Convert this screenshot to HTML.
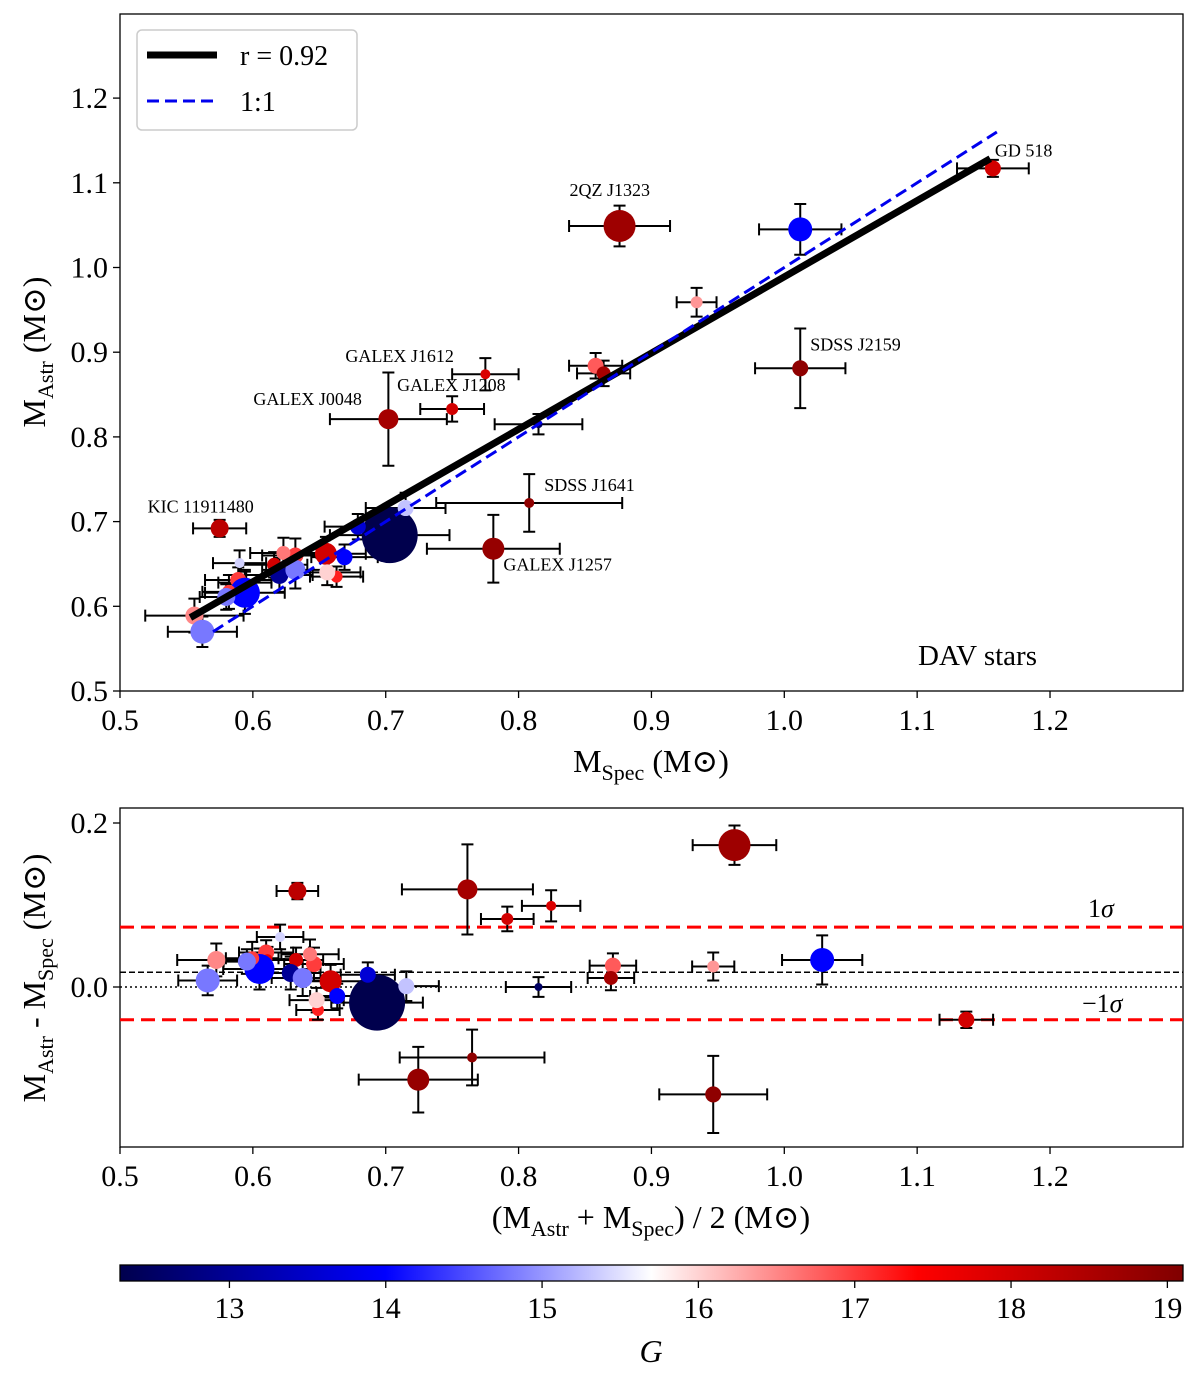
<!DOCTYPE html>
<html><head><meta charset="utf-8">
<style>
html,body{margin:0;padding:0;background:#fff;}
svg{display:block;font-family:"Liberation Serif","DejaVu Serif",serif;}
</style></head>
<body>
<svg id="chart" width="1200" height="1385" viewBox="0 0 1200 1385" xmlns="http://www.w3.org/2000/svg">
<defs>
<linearGradient id="cmap" x1="0" x2="1" y1="0" y2="0">
<stop offset="0" stop-color="rgb(0,0,77)"/>
<stop offset="0.25" stop-color="rgb(0,0,255)"/>
<stop offset="0.5" stop-color="rgb(255,255,255)"/>
<stop offset="0.75" stop-color="rgb(255,0,0)"/>
<stop offset="1" stop-color="rgb(128,0,0)"/>
</linearGradient>
</defs>
</svg>
<script>
// ---- data ----
const mSpec  = [1.157,0.876,1.012,0.934,1.012,0.858,0.864,0.775,0.750,0.702,0.815,0.808,0.781,0.575,0.703,0.715,0.679,0.655,0.669,0.663,0.656,0.632,0.623,0.616,0.620,0.632,0.590,0.589,0.594,0.594,0.582,0.580,0.556,0.562];
const mAstr  = [1.117,1.049,1.045,0.959,0.881,0.884,0.875,0.874,0.833,0.821,0.815,0.722,0.668,0.692,0.684,0.716,0.694,0.662,0.658,0.635,0.640,0.660,0.663,0.649,0.637,0.643,0.651,0.631,0.628,0.616,0.617,0.611,0.589,0.570];
const errSpec= [0.027,0.038,0.031,0.015,0.034,0.020,0.020,0.025,0.024,0.044,0.033,0.070,0.050,0.020,0.045,0.030,0.025,0.030,0.025,0.020,0.025,0.025,0.025,0.025,0.025,0.025,0.020,0.025,0.020,0.030,0.020,0.020,0.037,0.026];
const errAstr= [0.010,0.024,0.030,0.017,0.047,0.015,0.015,0.019,0.015,0.055,0.012,0.034,0.040,0.010,0.020,0.018,0.015,0.020,0.015,0.012,0.015,0.020,0.018,0.015,0.020,0.022,0.015,0.015,0.015,0.025,0.020,0.015,0.020,0.018];
const gMag   = [18.0,18.7,14.0,16.4,18.9,16.8,18.6,17.9,18.0,18.6,12.5,18.9,18.8,18.3,12.3,15.3,13.6,18.0,14.0,17.2,16.0,17.0,16.6,18.0,13.0,14.8,15.4,17.0,17.6,14.0,17.0,14.8,16.5,14.8];
const sizes  = [8,16,12,6,8,8,7,5,6,10,4,5,11,9,28,8,8,11,8,6,8,8,7,7,9,10,5,8,5,15,7,9,9,12];
const names  = ["GD 518","2QZ J1323","","","SDSS J2159","","","GALEX J1612","GALEX J1208","GALEX J0048","","SDSS J1641","GALEX J1257","KIC 11911480","","","","","","","","","","","","","","","","","","","",""];
const topXTicks = [0.5,0.6,0.7,0.8,0.9,1.0,1.1,1.2];
const topYTicks = [0.5,0.6,0.7,0.8,0.9,1.0,1.1,1.2];
const botYTicks = [0.0,0.2];
const cbTicks = [13,14,15,16,17,18,19];
const fitSlope = 0.9, fitIntercept = 0.089, fitRange = [0.553,1.155];
const oneRange = [0.57,1.16];
const diffMean = 0.018, sigmaHi = 0.073, sigmaLo = -0.040;
const gMin = 12.30, gMax = 19.10;
const labelDX = [2,-50,0,0,10,0,0,-140,-55,-135,0,15,10,-72,0,0,0,0,0,0,0,0,0,0,0,0,0,0,0,0,0,0,0,0];
const labelDY = [-12,-30,0,0,-18,0,0,-12,-18,-14,0,-12,22,-16,0,0,0,0,0,0,0,0,0,0,0,0,0,0,0,0,0,0,0,0];

const NS = "http://www.w3.org/2000/svg";
const svg = document.getElementById('chart');
function mk(tag, attrs, parent, text){
  const e = document.createElementNS(NS, tag);
  for (const k in attrs) e.setAttribute(k, attrs[k]);
  if (text !== undefined) e.textContent = text;
  (parent||svg).appendChild(e);
  return e;
}
const X0=120, X1=1183;
const xs = v => X0 + (v-0.5)*1328.6;
const ysTop = v => 691 - (v-0.5)*847;
const ysBot = v => 987 - v*820;
const cbX = g => X0 + (g-gMin)/(gMax-gMin)*(X1-X0);

function cmap(g){
  let t = Math.max(0,Math.min(1,(g-gMin)/(gMax-gMin)));
  const st=[[0,0,0,77],[0.25,0,0,255],[0.5,255,255,255],[0.75,255,0,0],[1,128,0,0]];
  for(let i=0;i<st.length-1;i++){
    if(t<=st[i+1][0]){
      const f=(t-st[i][0])/(st[i+1][0]-st[i][0]);
      const c=[1,2,3].map(j=>Math.round(st[i][j]+(st[i+1][j]-st[i][j])*f));
      return `rgb(${c.join(',')})`;
    }
  }
  return 'rgb(128,0,0)';
}

// ===== TOP PANEL =====
const topG = mk('g',{});


mk('rect',{x:X0,y:14,width:X1-X0,height:677,fill:'#fff',stroke:'#000','stroke-width':1.3},topG);
topXTicks.forEach(v=>{
  const x=xs(v);
  mk('line',{x1:x,x2:x,y1:691,y2:698,stroke:'#000','stroke-width':1.3},topG);
  const t=mk('text',{x:x,y:730,'font-size':30,'text-anchor':'middle'},topG,v.toFixed(1));
  
  
});
topYTicks.forEach(v=>{
  const y=ysTop(v);
  mk('line',{x1:X0-7,x2:X0,y1:y,y2:y,stroke:'#000','stroke-width':1.3},topG);
  const t=mk('text',{x:X0-12,y:y+10,'font-size':30,'text-anchor':'end'},topG,v.toFixed(1));
  
  
});
let xt=mk('text',{x:651,y:772,'font-size':32,'text-anchor':'middle'},topG);
xt.innerHTML='M<tspan font-size="22" dy="8">Spec</tspan><tspan dy="-8"> (M⊙)</tspan>';


let yt=mk('text',{x:0,y:0,'font-size':32,'text-anchor':'middle',transform:'translate(45,352) rotate(-90)'},topG);
yt.innerHTML='M<tspan font-size="22" dy="8">Astr</tspan><tspan dy="-8"> (M⊙)</tspan>';



const topPts = mk('g',{},topG);


mSpec.forEach((v,i)=>{
  const x=xs(v), y=ysTop(mAstr[i]);
  const xa=xs(v-errSpec[i]), xb=xs(v+errSpec[i]);
  const ya=ysTop(mAstr[i]-errAstr[i]), yb=ysTop(mAstr[i]+errAstr[i]);
  const eb=mk('path',{d:`M${xa},${y}H${xb}M${xa},${y-6}V${y+6}M${xb},${y-6}V${y+6}M${x},${ya}V${yb}M${x-6},${ya}H${x+6}M${x-6},${yb}H${x+6}`,stroke:'#000','stroke-width':2,fill:'none'},topPts);
  
  
});
const fl=mk('line',{x1:xs(fitRange[0]),y1:ysTop(fitSlope*fitRange[0]+fitIntercept),x2:xs(fitRange[1]),y2:ysTop(fitSlope*fitRange[1]+fitIntercept),stroke:'#000','stroke-width':7},topG);


const ol=mk('line',{x1:xs(oneRange[0]),y1:ysTop(oneRange[0]),x2:xs(oneRange[1]),y2:ysTop(oneRange[1]),stroke:'#0000ee','stroke-width':3,'stroke-dasharray':'12,6'},topG);


mSpec.forEach((v,i)=>{
  const c=mk('circle',{cx:xs(v),cy:ysTop(mAstr[i]),r:sizes[i],fill:cmap(gMag[i])},topPts);
  
  
  if(names[i]){
    const t=mk('text',{x:xs(v)+labelDX[i],y:ysTop(mAstr[i])+labelDY[i],'font-size':18},topG,names[i]);
    
    
  }
});
const lg=mk('g',{},topG);


mk('rect',{x:137,y:30,width:220,height:100,rx:5,fill:'#fff',stroke:'#ccc','stroke-width':1.5},lg);
mk('line',{x1:147,x2:217,y1:55,y2:55,stroke:'#000','stroke-width':7},lg);
let le=mk('text',{x:240,y:65,'font-size':28},lg,'r = 0.92');


mk('line',{x1:147,x2:217,y1:101,y2:101,stroke:'#0000ee','stroke-width':3,'stroke-dasharray':'12,6'},lg);
le=mk('text',{x:240,y:111,'font-size':28},lg,'1:1');


let dv=mk('text',{x:918,y:665,'font-size':29},topG,'DAV stars');



// ===== BOTTOM PANEL =====
const botG=mk('g',{});


mk('rect',{x:X0,y:808,width:X1-X0,height:339,fill:'#fff',stroke:'#000','stroke-width':1.3},botG);
topXTicks.forEach(v=>{
  const x=xs(v);
  mk('line',{x1:x,x2:x,y1:1147,y2:1154,stroke:'#000','stroke-width':1.3},botG);
  const t=mk('text',{x:x,y:1186,'font-size':30,'text-anchor':'middle'},botG,v.toFixed(1));
  
  
});
botYTicks.forEach(v=>{
  const y=ysBot(v);
  mk('line',{x1:X0-7,x2:X0,y1:y,y2:y,stroke:'#000','stroke-width':1.3},botG);
  const t=mk('text',{x:X0-12,y:y+10,'font-size':30,'text-anchor':'end'},botG,v.toFixed(1));
  
  
});
xt=mk('text',{x:651,y:1228,'font-size':32,'text-anchor':'middle'},botG);
xt.innerHTML='(M<tspan font-size="22" dy="8">Astr</tspan><tspan dy="-8"> + M</tspan><tspan font-size="22" dy="8">Spec</tspan><tspan dy="-8">) / 2 (M⊙)</tspan>';


yt=mk('text',{x:0,y:0,'font-size':32,'text-anchor':'middle',transform:'translate(45,978) rotate(-90)'},botG);
yt.innerHTML='M<tspan font-size="22" dy="8">Astr</tspan><tspan dy="-8"> - M</tspan><tspan font-size="22" dy="8">Spec</tspan><tspan dy="-8"> (M⊙)</tspan>';


[[sigmaHi,'#f00',3,'14,7','sigma-plus-line'],[sigmaLo,'#f00',3,'14,7','sigma-minus-line'],[diffMean,'#000',1.5,'6,3','mean-offset-line'],[0,'#000',1.5,'2,3','zero-line']].forEach(a=>{
  const l=mk('line',{x1:X0,x2:X1,y1:ysBot(a[0]),y2:ysBot(a[0]),stroke:a[1],'stroke-width':a[2],'stroke-dasharray':a[3]},botG);
  
  
});
let s1=mk('text',{x:1088,y:917,'font-size':26},botG);
s1.innerHTML='1<tspan font-style="italic">σ</tspan>';


let s2=mk('text',{x:1082,y:1012,'font-size':26},botG);
s2.innerHTML='−1<tspan font-style="italic">σ</tspan>';


const botPts=mk('g',{},botG);


const meanV=mSpec.map((v,i)=>(v+mAstr[i])/2), diffV=mSpec.map((v,i)=>mAstr[i]-v);
const errM=errSpec.map((e,i)=>Math.hypot(e,errAstr[i])/2*1.4), errD=errSpec.map((e,i)=>Math.max(errAstr[i],0.01));
mSpec.forEach((v,i)=>{
  const x=xs(meanV[i]), y=ysBot(diffV[i]);
  const xa=xs(meanV[i]-errM[i]), xb=xs(meanV[i]+errM[i]);
  const ya=ysBot(diffV[i]-errD[i]), yb=ysBot(diffV[i]+errD[i]);
  const eb=mk('path',{d:`M${xa},${y}H${xb}M${xa},${y-6}V${y+6}M${xb},${y-6}V${y+6}M${x},${ya}V${yb}M${x-6},${ya}H${x+6}M${x-6},${yb}H${x+6}`,stroke:'#000','stroke-width':2,fill:'none'},botPts);
  
  
});
mSpec.forEach((v,i)=>{
  const c=mk('circle',{cx:xs(meanV[i]),cy:ysBot(diffV[i]),r:sizes[i],fill:cmap(gMag[i])},botPts);
  
  
});

// ===== COLORBAR =====
const cbG=mk('g',{});


mk('rect',{x:X0,y:1265,width:X1-X0,height:16,fill:'url(#cmap)',stroke:'#000','stroke-width':1.3},cbG);
cbTicks.forEach(g=>{
  const x=cbX(g);
  mk('line',{x1:x,x2:x,y1:1281,y2:1288,stroke:'#000','stroke-width':1.3},cbG);
  const t=mk('text',{x:x,y:1318,'font-size':30,'text-anchor':'middle'},cbG,String(g));
  
  
});
const gl=mk('text',{x:651,y:1362,'font-size':32,'font-style':'italic','text-anchor':'middle'},cbG,'G');


</script>
</body></html>
